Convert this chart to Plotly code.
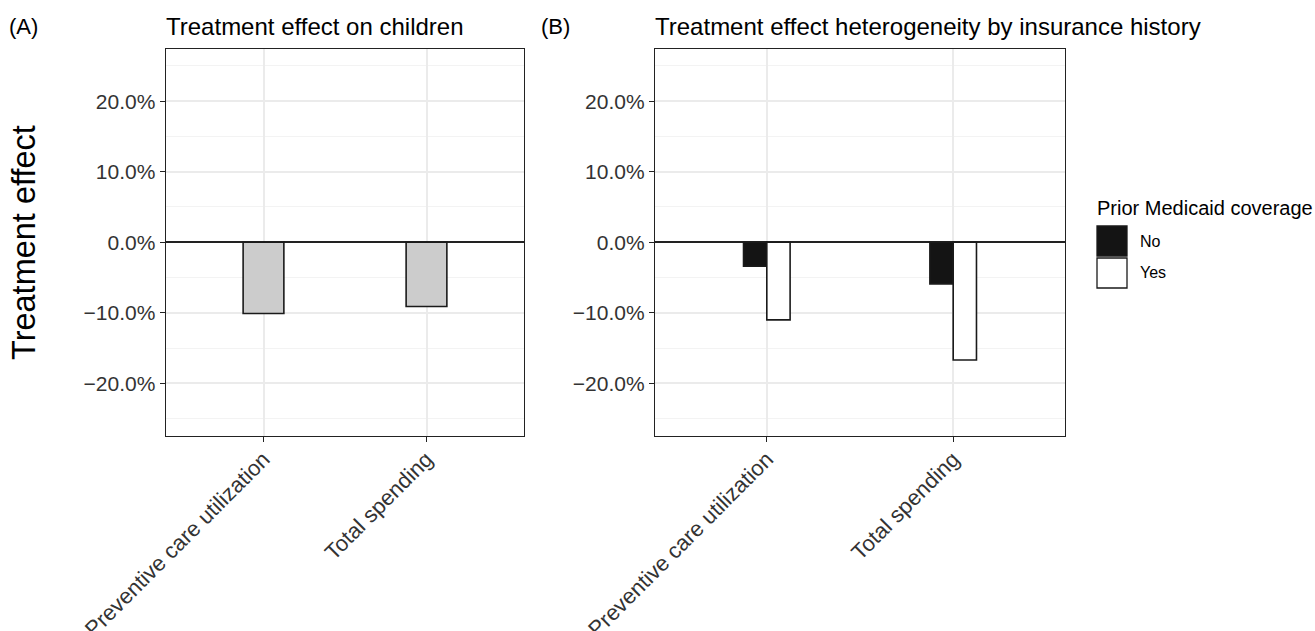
import plotly.graph_objects as go

W, H = 1315, 631

# ---- data ----
outcomes = ["Preventive care utilization", "Total spending"]
effect_children = [-10.1, -9.1]          # percent
prior_groups = ["No", "Yes"]
effect_prior_no = [-3.4, -5.9]           # percent
effect_prior_yes = [-11.0, -16.7]        # percent
ytick_vals = [-20, -10, 0, 10, 20]
ytick_text = [("\u2212" if v < 0 else "") + f"{abs(v):.1f}%" for v in ytick_vals]

FONT = "Liberation Sans, Arial, Helvetica, sans-serif"
BORDER = "#222222"
GRID = "#EBEBEB"

def px(x):
    return x / W

def py(y):
    return 1 - y / H

fig = go.Figure()

fig.add_trace(go.Bar(
    x=outcomes, y=effect_children, width=0.25,
    marker=dict(color="#CCCCCC", line=dict(color="#1A1A1A", width=1.6)),
    xaxis="x", yaxis="y", showlegend=False))

fig.add_trace(go.Bar(
    x=outcomes, y=effect_prior_no, width=0.125, offset=-0.125,
    marker=dict(color="#141414", line=dict(color="#1A1A1A", width=1.6)),
    xaxis="x2", yaxis="y2", showlegend=False, name=prior_groups[0]))

fig.add_trace(go.Bar(
    x=outcomes, y=effect_prior_yes, width=0.125, offset=0,
    marker=dict(color="white", line=dict(color="#1A1A1A", width=1.6)),
    xaxis="x2", yaxis="y2", showlegend=False, name=prior_groups[1]))

yrange = [-27.4, 27.4]
common_x = dict(
    type="category", range=[-0.6, 1.6], showgrid=True, gridcolor=GRID, gridwidth=1.5,
    showline=True, mirror=True, linecolor=BORDER, linewidth=1.3,
    ticks="outside", ticklen=5, tickwidth=1.3, tickcolor=BORDER,
    tickangle=-45, tickfont=dict(family=FONT, size=22, color="#333333"),
    ticklabelstandoff=-4,
    zeroline=False, fixedrange=True, automargin=False)
common_y = dict(
    range=yrange, tickvals=ytick_vals, ticktext=ytick_text,
    showgrid=True, gridcolor=GRID, gridwidth=1.5,
    minor=dict(dtick=5, tick0=5, showgrid=True, gridcolor="#F3F3F3", gridwidth=0.8, ticks=""),
    showline=True, mirror=True, linecolor=BORDER, linewidth=1.3,
    ticks="outside", ticklen=5, tickwidth=1.3, tickcolor=BORDER,
    tickfont=dict(family=FONT, size=21, color="#333333"),
    zeroline=True, zerolinecolor="#222222", zerolinewidth=1.6, fixedrange=True,
    automargin=False)

top, bottom = 49, 435.5
fig.update_layout(
    width=W, height=H,
    margin=dict(l=0, r=0, t=0, b=0, pad=0, autoexpand=False),
    paper_bgcolor="white", plot_bgcolor="white",
    barmode="overlay",
    xaxis=dict(domain=[px(165.7), px(524.3)], anchor="y", **common_x),
    yaxis=dict(domain=[py(bottom), py(top)], anchor="x", **common_y),
    xaxis2=dict(domain=[px(655), px(1065)], anchor="y2", **common_x),
    yaxis2=dict(domain=[py(bottom), py(top)], anchor="x2", **common_y),
    font=dict(family=FONT, color="black"),
)

ann = []
def text(x, y, s, size, xanchor="left", color="black", angle=0):
    ann.append(dict(x=px(x), y=py(y), xref="paper", yref="paper", text=s,
                    showarrow=False, xanchor=xanchor, yanchor="middle",
                    textangle=angle, font=dict(family=FONT, size=size, color=color)))

text(7, 26, "(A)", 22)
text(164, 26, "Treatment effect on children", 24)
text(539, 26, "(B)", 22)
text(653, 26, "Treatment effect heterogeneity by insurance history", 24)
text(24, 243, "Treatment effect", 32.5, xanchor="center", angle=-90)

# legend (drawn manually)
text(1095, 208, "Prior Medicaid coverage", 20)
text(1138, 241, prior_groups[0], 16)
text(1138, 272, prior_groups[1], 16)
fig.update_layout(annotations=ann)

shapes = [
    dict(type="rect", xref="paper", yref="paper", x0=px(1097), x1=px(1127),
         y0=py(256), y1=py(226), fillcolor="#141414", line=dict(color="#1A1A1A", width=1.3)),
    dict(type="rect", xref="paper", yref="paper", x0=px(1097), x1=px(1127),
         y0=py(288), y1=py(258), fillcolor="white", line=dict(color="#1A1A1A", width=1.3)),
]
fig.update_layout(shapes=shapes)

fig.write_html("out.html", config={"displayModeBar": False},
               post_script="document.body.style.margin='0px';document.body.style.overflow='hidden';")
